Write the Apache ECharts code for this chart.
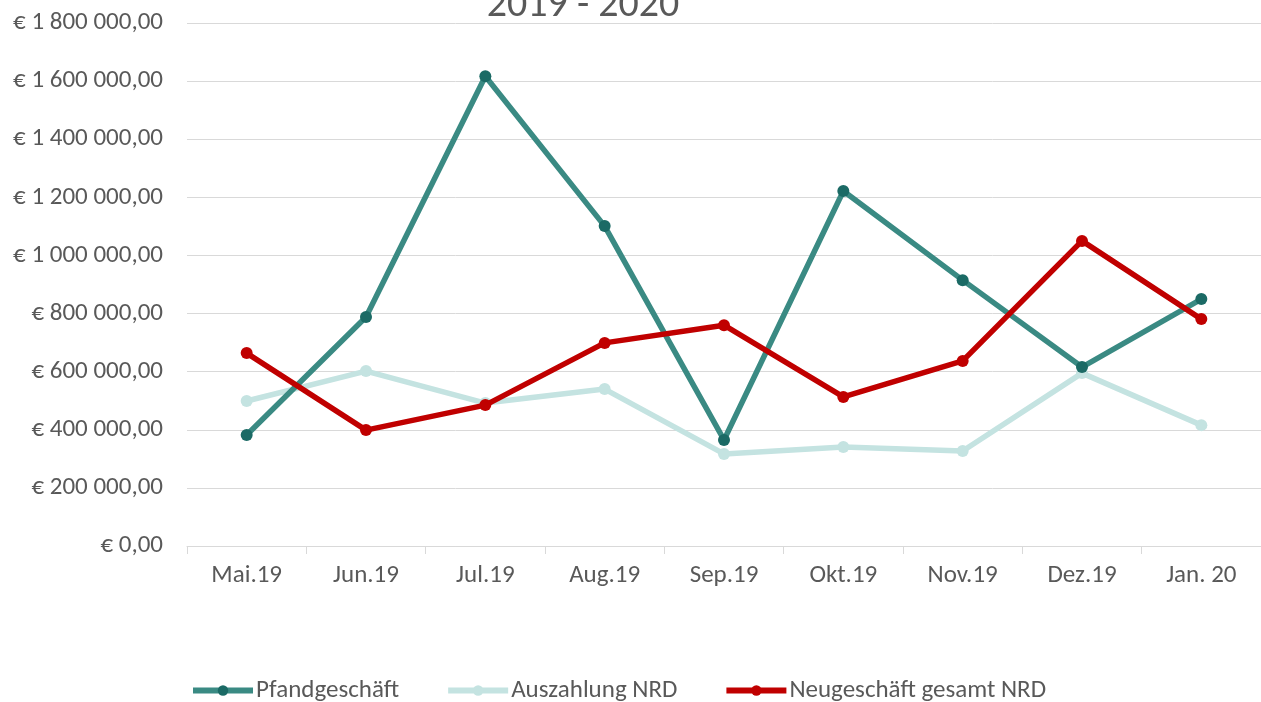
<!DOCTYPE html>
<html>
<head>
<meta charset="utf-8">
<title>2019 - 2020</title>
<script src="https://cdn.jsdelivr.net/npm/echarts@6/dist/echarts.min.js"></script>
<style>
  html, body { margin: 0; padding: 0; background: #fff; }
  #main { width: 1261px; height: 702px; }
</style>
</head>
<body>
<div id="main"></div>
<script>
// Monate
const months = ['Mai.19', 'Jun.19', 'Jul.19', 'Aug.19', 'Sep.19', 'Okt.19', 'Nov.19', 'Dez.19', 'Jan. 20'];
// Werte in Euro
const pfandgeschaeft = [382000, 788000, 1617000, 1101000, 365000, 1222000, 915000, 616000, 850000];
const auszahlungNrd = [499000, 602000, 492000, 540000, 317000, 341000, 327000, 595000, 416000];
const neugeschaeftNrd = [664000, 399000, 485000, 699000, 760000, 513000, 637000, 1050000, 781000];

const fontFamily = 'Carlito, "Open Sans", "Noto Sans", sans-serif';

function euro(v) {
  // € 1 800 000,00
  let s = Math.round(v).toString().replace(/\B(?=(\d{3})+(?!\d))/g, ' ');
  return '€ ' + s + ',00';
}

let myChart = echarts.init(document.getElementById('main'));
let option = {
  animation: false,
  title: {
    text: '2019 - 2020',
    left: 578,
    top: -19,
    textAlign: 'center',
    textStyle: { color: '#595959', fontSize: 40, fontWeight: 'normal', fontFamily: fontFamily }
  },
  legend: {
    top: 678,
    left: 190,
    padding: 0,
    itemGap: 46,
    itemWidth: 60,
    itemHeight: 13,
    lineStyle: { width: 6 },
    textStyle: { color: '#595959', fontSize: 25, fontFamily: fontFamily, padding: [0, 0, 0, -2] },
    data: ['Pfandgeschäft', 'Auszahlung NRD', 'Neugeschäft gesamt NRD']
  },
  grid: {
    left: 187,
    right: -10,
    top: 23,
    bottom: 156
  },
  xAxis: {
    type: 'category',
    data: months,
    boundaryGap: true,
    axisLine: { lineStyle: { color: '#d9d9d9' } },
    axisTick: { show: true, length: 8, lineStyle: { color: '#d9d9d9' } },
    axisLabel: { color: '#595959', fontSize: 25, margin: 17, fontFamily: fontFamily }
  },
  yAxis: {
    type: 'value',
    min: 0,
    max: 1800000,
    interval: 200000,
    axisLine: { show: false },
    axisTick: { show: false },
    splitLine: { lineStyle: { color: '#d9d9d9', width: 1 } },
    axisLabel: { color: '#595959', fontSize: 25, margin: 24, fontFamily: fontFamily, formatter: euro }
  },
  series: [
    {
      name: 'Pfandgeschäft',
      type: 'line',
      data: pfandgeschaeft,
      symbol: 'circle',
      symbolSize: 12,
      z: 3,
      lineStyle: { color: '#3a8a83', width: 5.5 },
      itemStyle: { color: '#1b6a65' }
    },
    {
      name: 'Auszahlung NRD',
      type: 'line',
      data: auszahlungNrd,
      symbol: 'circle',
      symbolSize: 12,
      z: 2,
      lineStyle: { color: '#c4e3e1', width: 5.5 },
      itemStyle: { color: '#c4e3e1' }
    },
    {
      name: 'Neugeschäft gesamt NRD',
      type: 'line',
      data: neugeschaeftNrd,
      symbol: 'circle',
      symbolSize: 12,
      z: 4,
      lineStyle: { color: '#c00000', width: 5.5 },
      itemStyle: { color: '#c00000' }
    }
  ]
};
myChart.setOption(option);
</script>
</body>
</html>
